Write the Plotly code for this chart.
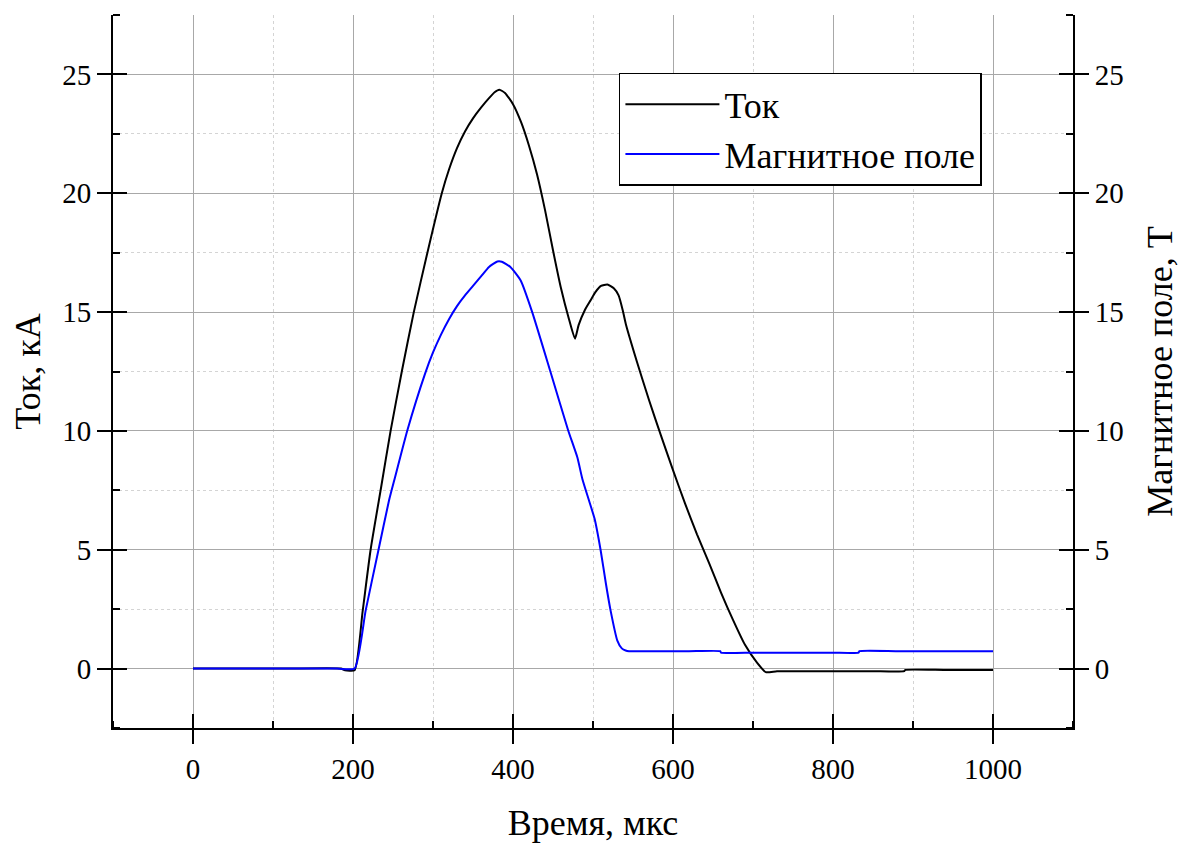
import plotly.graph_objects as go

# Ток (current), kA
t_current = [0, 60, 120, 185, 190, 202, 212, 222, 235, 247, 261, 276, 293, 311, 320, 330, 340, 350,
             360, 370, 377, 383, 390, 400, 410, 420, 430, 440, 450, 460, 470, 477.5,
             482, 490, 497, 503, 510, 518, 526, 532, 537, 541, 555, 570, 585, 600, 615,
             630, 645, 660, 675, 690, 705, 716, 730, 770, 810, 850, 889, 890, 940, 1000]
current = [0, 0, 0, 0, -0.07, -0.07, 2.4, 5.0, 7.6, 10.0, 12.5, 15.0, 17.5, 20.0, 21.0, 21.9, 22.6, 23.15,
           23.6, 24.0, 24.25, 24.36, 24.22, 23.75, 23.0, 22.0, 20.8, 19.3, 17.6, 16.0, 14.7, 13.88,
           14.45, 15.1, 15.5, 15.84, 16.1, 16.16, 16.0, 15.7, 15.1, 14.5, 12.9, 11.3, 9.8, 8.35, 6.95,
           5.65, 4.45, 3.2, 2.05, 1.0, 0.25, -0.15, -0.11, -0.11, -0.11, -0.11, -0.11, -0.06, -0.06, -0.06]

# Магнитное поле (magnetic field), T
t_field = [0, 60, 120, 180, 202, 215.8, 231.7, 245, 252, 267.9, 290, 300, 310, 320, 330, 340, 350,
           360, 370, 380.4, 386, 397, 409.6, 424, 447, 469, 480.4, 486.7, 495, 502, 509.6, 516, 522,
           530.4, 536, 540.8, 545, 580, 620, 659, 660, 700, 750, 800, 832, 833, 880, 940, 1000]
field = [0, 0, 0, 0, 0, 2.44, 4.97, 7.07, 7.98, 10.02, 12.4, 13.3, 14.05, 14.7, 15.25, 15.7, 16.1,
         16.5, 16.9, 17.13, 17.12, 16.89, 16.33, 15.0, 12.47, 10.02, 8.89, 7.98, 7.07, 6.3, 4.97, 3.6, 2.44,
         1.18, 0.85, 0.76, 0.73, 0.73, 0.73, 0.73, 0.67, 0.67, 0.67, 0.67, 0.67, 0.73, 0.73, 0.73, 0.73]

x_ticks = [0, 200, 400, 600, 800, 1000]
y_ticks = [0, 5, 10, 15, 20, 25]

FONT = "Liberation Serif"
x_range = [-100, 1100]
y_range = [-2.5, 27.5]

fig = go.Figure()
fig.add_trace(go.Scatter(x=t_current, y=current, mode="lines", name="Ток",
                         line=dict(color="black", width=2, shape="spline", smoothing=0.5),
                         xaxis="x", yaxis="y"))
fig.add_trace(go.Scatter(x=t_field, y=field, mode="lines", name="Магнитное поле",
                         line=dict(color="#0000ff", width=2, shape="spline", smoothing=0.5),
                         xaxis="x", yaxis="y2"))
# invisible helper traces so that overlay tick axes are drawn
fig.add_trace(go.Scatter(x=t_current, y=current, mode="lines", line=dict(width=0), opacity=0,
                         showlegend=False, hoverinfo="skip", xaxis="x2", yaxis="y3"))
fig.add_trace(go.Scatter(x=t_current, y=current, mode="lines", line=dict(width=0), opacity=0,
                         showlegend=False, hoverinfo="skip", xaxis="x", yaxis="y4"))

tickfont = dict(family=FONT, size=29, color="black")
titlefont = dict(family=FONT, size=36, color="black")

fig.update_layout(
    width=1180, height=843,
    margin=dict(l=113, r=107, t=15, b=115),
    paper_bgcolor="white", plot_bgcolor="white",
    showlegend=True,
    legend=dict(x=0.527, y=0.919, xanchor="left", yanchor="top",
                bgcolor="white", bordercolor="black", borderwidth=1.5,
                font=dict(family=FONT, size=36, color="black"),
                itemwidth=94, tracegroupgap=0),
    xaxis=dict(range=x_range, tickmode="array", tickvals=x_ticks, ticktext=[str(v) for v in x_ticks],
               ticks="outside", ticklen=14, tickwidth=2, tickcolor="black", automargin=False,
               showline=True, linecolor="black", linewidth=2, mirror=False,
               showgrid=True, gridcolor="#a8a8a8", gridwidth=1, zeroline=False,
               tickfont=tickfont,
               minor=dict(dtick=100, tick0=0, ticks="inside", ticklen=7, tickwidth=2, tickcolor="black",
                          showgrid=True, gridcolor="#d4d4d4", griddash="dot", gridwidth=1),
               title=dict(text="Время, мкс", font=titlefont, standoff=27)),
    xaxis2=dict(range=x_range, overlaying="x", anchor="y", side="bottom", tickmode="array",
                tickvals=x_ticks, ticks="inside", ticklen=14, tickwidth=2, tickcolor="black",
                automargin=False,
                showticklabels=False, showgrid=False, zeroline=False, showline=False),
    yaxis=dict(range=y_range, tickmode="array", tickvals=y_ticks, ticktext=[str(v) for v in y_ticks],
               ticks="outside", ticklen=14, tickwidth=2, tickcolor="black", automargin=False,
               showline=True, linecolor="black", linewidth=2,
               showgrid=True, gridcolor="#a8a8a8", gridwidth=1, zeroline=False,
               tickfont=tickfont,
               minor=dict(dtick=2.5, tick0=0, ticks="inside", ticklen=7, tickwidth=2, tickcolor="black",
                          showgrid=True, gridcolor="#d4d4d4", griddash="dot", gridwidth=1),
               title=dict(text="Ток, кА", font=titlefont, standoff=11)),
    yaxis2=dict(range=y_range, overlaying="y", anchor="x", side="right", tickmode="array",
                tickvals=y_ticks, ticktext=[str(v) for v in y_ticks], automargin=False,
                ticks="outside", ticklen=14, tickwidth=2, tickcolor="black",
                showline=True, linecolor="black", linewidth=2,
                showgrid=False, zeroline=False, tickfont=tickfont,
                minor=dict(dtick=2.5, tick0=0, ticks="inside", ticklen=7, tickwidth=2, tickcolor="black",
                           showgrid=False),
                title=dict(text="Магнитное поле, Т", font=titlefont, standoff=27)),
    yaxis3=dict(range=y_range, overlaying="y", anchor="x", side="left", tickmode="array",
                tickvals=y_ticks, ticks="inside", ticklen=14, tickwidth=2, tickcolor="black",
                automargin=False,
                showticklabels=False, showgrid=False, zeroline=False, showline=False),
    yaxis4=dict(range=y_range, overlaying="y", anchor="x", side="right", tickmode="array",
                tickvals=y_ticks, ticks="inside", ticklen=14, tickwidth=2, tickcolor="black",
                automargin=False,
                showticklabels=False, showgrid=False, zeroline=False, showline=False),
)

fig.write_html("out.html", config={"displayModeBar": False},
               post_script="document.body.style.margin='0';document.body.style.overflow='hidden';")
